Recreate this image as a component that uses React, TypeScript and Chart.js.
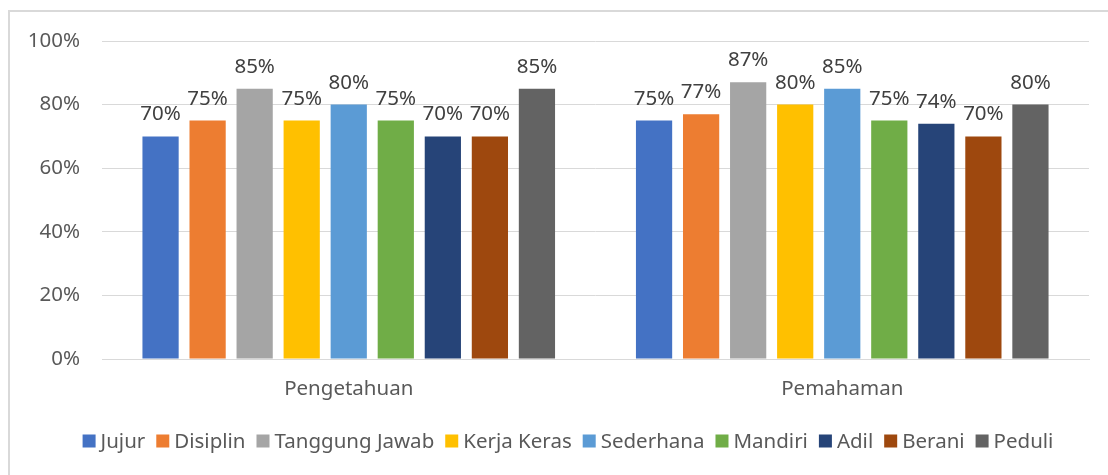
import React, { useEffect, useRef } from "react";
import { Chart, registerables } from "chart.js";

Chart.register(...registerables);

const categories = ["Pengetahuan", "Pemahaman"];
const seriesNames = ["Jujur", "Disiplin", "Tanggung Jawab", "Kerja Keras", "Sederhana", "Mandiri", "Adil", "Berani", "Peduli"];
const jujur = [70, 75];
const disiplin = [75, 77];
const tanggungJawab = [85, 87];
const kerjaKeras = [75, 80];
const sederhana = [80, 85];
const mandiri = [75, 75];
const adil = [70, 74];
const berani = [70, 70];
const peduli = [85, 80];
const seriesColors = ["#4472C4", "#ED7D31", "#A5A5A5", "#FFC000", "#5B9BD5", "#70AD47", "#264478", "#9E480E", "#636363"];
const yTicks = [0, 20, 40, 60, 80, 100];

const FONT = "'Noto Sans', 'Open Sans', sans-serif";
const FS = 20.5;

const frameAndLabels = {
  id: "frameAndLabels",
  beforeDraw(chart: any) {
    const ctx = chart.ctx;
    ctx.save();
    ctx.fillStyle = "#ffffff";
    ctx.fillRect(0, 0, chart.width, chart.height);
    ctx.fillStyle = "#d9d9d9";
    ctx.fillRect(8, 10, chart.width - 8, 2);
    ctx.fillRect(8, 10, 2, chart.height - 10);
    ctx.restore();
  },
  afterDatasetsDraw(chart: any) {
    const ctx = chart.ctx;
    ctx.save();
    ctx.font = `${FS}px ${FONT}`;
    ctx.fillStyle = "#404040";
    ctx.textAlign = "center";
    ctx.textBaseline = "alphabetic";
    chart.data.datasets.forEach((ds: any, i: number) => {
      const meta = chart.getDatasetMeta(i);
      meta.data.forEach((bar: any, j: number) => {
        ctx.fillText(`${ds.data[j]}%`, bar.x, bar.y - 16);
      });
    });
    ctx.restore();
  },
  afterDraw(chart: any) {
    // legend
    const ctx = chart.ctx;
    ctx.save();
    ctx.font = `${FS}px ${FONT}`;
    ctx.textBaseline = "middle";
    ctx.textAlign = "left";
    const box = 13, gapBT = 5, gapItem = 11;
    const items = chart.data.datasets.map((ds: any) => ({
      label: ds.label,
      color: ds.backgroundColor,
      w: box + gapBT + ctx.measureText(ds.label).width,
    }));
    const total = items.reduce((a: number, it: any) => a + it.w, 0) + gapItem * (items.length - 1);
    let x = 568 - total / 2;
    const cy = 441;
    items.forEach((it: any) => {
      ctx.fillStyle = it.color;
      ctx.fillRect(x, cy - box / 2, box, box);
      ctx.fillStyle = "#595959";
      ctx.fillText(it.label, x + box + gapBT, cy + 1);
      x += it.w + gapItem;
    });
    ctx.restore();
  },
};

export default function App() {
  const ref = useRef<HTMLCanvasElement | null>(null);
  useEffect(() => {
    if (!ref.current) return;
    const values = [jujur, disiplin, tanggungJawab, kerjaKeras, sederhana, mandiri, adil, berani, peduli];
    const chart = new Chart(ref.current, {
      type: "bar",
      data: {
        labels: categories,
        datasets: seriesNames.map((name, i) => ({
          label: name,
          data: values[i],
          backgroundColor: seriesColors[i],
          borderWidth: 0,
          barPercentage: 0.77,
          categoryPercentage: 0.858,
        })),
      },
      options: {
        responsive: false,
        animation: false,
        layout: { padding: { top: 41, right: 19, bottom: 56, left: 0 } },
        plugins: {
          legend: { display: false },
          tooltip: { enabled: false },
        },
        scales: {
          x: {
            grid: { display: false, drawTicks: false },
            border: { display: true, color: "#d9d9d9", width: 1 },
            ticks: { font: { family: FONT, size: FS }, color: "#595959", padding: 18 },
            afterFit: (s: any) => { s.height = 60; },
          },
          y: {
            min: 0,
            max: 100,
            afterBuildTicks: (s: any) => { s.ticks = yTicks.map((v) => ({ value: v })); },
            grid: { color: "#d9d9d9", lineWidth: 1, drawTicks: false },
            border: { display: false },
            ticks: {
              font: { family: FONT, size: FS },
              color: "#595959",
              padding: 22,
              callback: (v: any) => `${v}%`,
            },
            afterFit: (s: any) => { s.width = 102; },
          },
        },
      },
      plugins: [frameAndLabels],
    });
    return () => chart.destroy();
  }, []);
  return (
    <div style={{ position: "fixed", left: 0, top: 0, width: 1108, height: 475 }}>
      <canvas ref={ref} width={1108} height={475} style={{ display: "block" }} />
    </div>
  );
}
